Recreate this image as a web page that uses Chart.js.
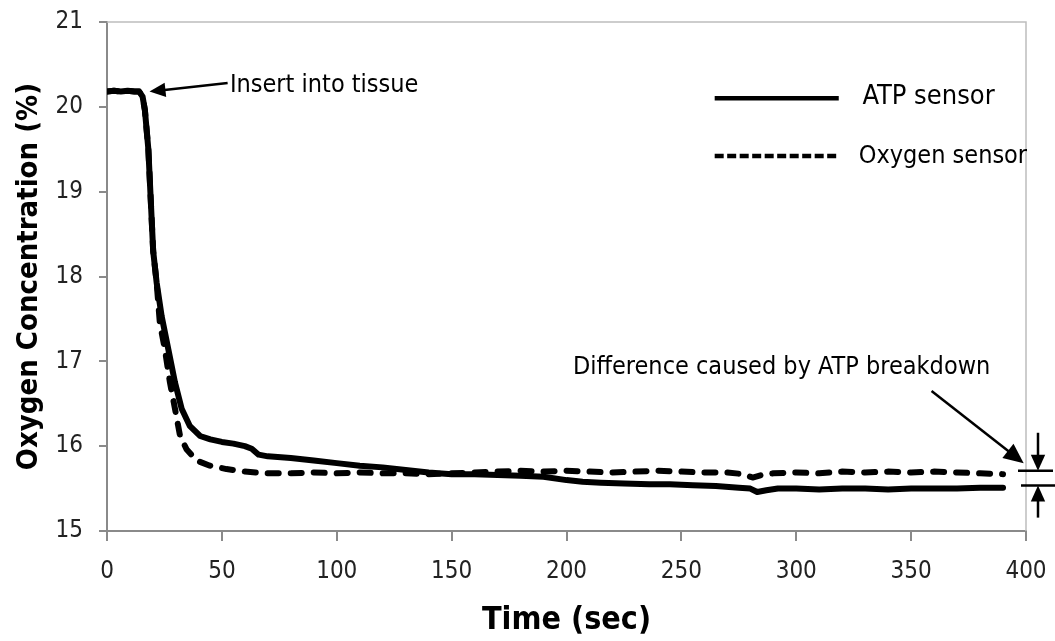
<!DOCTYPE html>
<html>
<head>
<meta charset="utf-8">
<script src="https://cdn.jsdelivr.net/npm/chart.js@4.4.1/dist/chart.umd.min.js"></script>
<style>
  html, body { margin: 0; padding: 0; background: #ffffff; }
  #wrap { width: 1055px; height: 641px; position: relative; }
</style>
</head>
<body>
<div id="wrap"><canvas id="chart"></canvas></div>
<script>
// ---- data ----
const atpTime = [0,3,6,9,12,14,15.5,16.5,18,19.4,20.1,21.6,23.8,26.7,29.6,32.5,36,40.5,45,50,55,60,63,66,70,80,90,100,110,120,130,140,150,160,170,180,190,200,207,215,225,236,245,255,265,275,280,283,287,292,300,310,320,330,340,350,360,370,380,390];
const atpValue = [20.18,20.19,20.18,20.19,20.18,20.18,20.12,19.96,19.5,18.7,18.3,17.93,17.53,17.14,16.75,16.44,16.24,16.12,16.08,16.05,16.03,16.0,15.97,15.9,15.88,15.86,15.83,15.8,15.77,15.75,15.72,15.69,15.67,15.67,15.66,15.65,15.64,15.6,15.58,15.57,15.56,15.55,15.55,15.54,15.53,15.51,15.5,15.46,15.48,15.5,15.5,15.49,15.5,15.5,15.49,15.5,15.5,15.5,15.51,15.51];

const oxyTime = [0,3,6,9,12,14,15.5,16.5,18,19.4,20.1,21.6,23,25.2,27.4,29.6,31.8,34.7,39,44.8,52,60,70,80,90,100,110,120,130,140,150,160,170,180,190,200,210,220,230,240,250,260,270,277,281,285,290,300,310,320,330,340,350,360,370,380,390];
const oxyValue = [20.18,20.19,20.18,20.19,20.18,20.18,20.12,19.96,19.5,18.7,18.3,17.93,17.45,17.14,16.75,16.44,16.12,15.96,15.83,15.77,15.73,15.7,15.68,15.68,15.69,15.68,15.69,15.68,15.68,15.67,15.68,15.69,15.7,15.71,15.7,15.71,15.7,15.69,15.7,15.71,15.7,15.69,15.69,15.67,15.63,15.66,15.68,15.69,15.68,15.7,15.69,15.7,15.69,15.7,15.69,15.68,15.67];

const seriesNames = ['ATP sensor', 'Oxygen sensor'];
const xTitle = 'Time (sec)';
const yTitle = 'Oxygen Concentration (%)';
const insertLabel = 'Insert into tissue';
const diffLabel = 'Difference caused by ATP breakdown';

const FONT = '"DejaVu Sans Condensed", "Liberation Sans Narrow", sans-serif';

function pts(xs, ys) { return xs.map((x, i) => ({ x: x, y: ys[i] })); }

function arrow(ctx, x1, y1, x2, y2, head, lw) {
  const a = Math.atan2(y2 - y1, x2 - x1);
  ctx.save();
  ctx.strokeStyle = '#000'; ctx.fillStyle = '#000'; ctx.lineWidth = lw;
  ctx.beginPath();
  ctx.moveTo(x1, y1);
  ctx.lineTo(x2 - Math.cos(a) * head * 0.8, y2 - Math.sin(a) * head * 0.8);
  ctx.stroke();
  ctx.beginPath();
  ctx.moveTo(x2, y2);
  ctx.lineTo(x2 - head * Math.cos(a) + head * 0.45 * Math.sin(a), y2 - head * Math.sin(a) - head * 0.45 * Math.cos(a));
  ctx.lineTo(x2 - head * Math.cos(a) - head * 0.45 * Math.sin(a), y2 - head * Math.sin(a) + head * 0.45 * Math.cos(a));
  ctx.closePath();
  ctx.fill();
  ctx.restore();
}

const framePlugin = {
  id: 'frame',
  beforeDatasetsDraw(chart) {
    const { ctx, chartArea: a } = chart;
    ctx.save();
    ctx.strokeStyle = '#bdbdbd';
    ctx.lineWidth = 1.5;
    ctx.beginPath();
    ctx.moveTo(a.left, a.top);
    ctx.lineTo(a.right, a.top);
    ctx.lineTo(a.right, a.bottom);
    ctx.stroke();
    ctx.restore();
  }
};

const annotPlugin = {
  id: 'annot',
  afterDraw(chart) {
    const { ctx, chartArea: a } = chart;
    const xs = chart.scales.x, ys = chart.scales.y;
    const X = v => xs.getPixelForValue(v), Y = v => ys.getPixelForValue(v);
    ctx.save();
    ctx.fillStyle = '#000';
    ctx.textBaseline = 'alphabetic';
    ctx.textAlign = 'left';
    ctx.font = '25px ' + FONT;
    // Insert into tissue
    ctx.fillText(insertLabel, X(53.5), Y(20.0) - 15);
    arrow(ctx, X(52.5), Y(20.28), X(18.5), Y(20.18), 16, 2.5);
    // Difference caused by ATP breakdown
    ctx.font = '25px ' + FONT;
    ctx.fillText(diffLabel, X(202.8), Y(16.88) + 2);
    arrow(ctx, X(358.9), Y(16.65), X(399), Y(15.8), 20, 2.5);
    // bracket marks
    const yTop = Y(15.71), yBot = Y(15.535);
    ctx.strokeStyle = '#000';
    ctx.lineWidth = 2.5;
    ctx.beginPath();
    ctx.moveTo(a.right - 8, yTop); ctx.lineTo(a.right + 27, yTop);
    ctx.moveTo(a.right - 5, yBot); ctx.lineTo(a.right + 29, yBot);
    ctx.stroke();
    arrow(ctx, a.right + 12, yTop - 38, a.right + 12, yTop, 16, 2.5);
    arrow(ctx, a.right + 12, yBot + 32, a.right + 12, yBot, 16, 2.5);
    // legend
    const ds = chart.data.datasets;
    [0, 1].forEach(i => {
      const ly = i === 0 ? Y(20.1) : Y(19.42);
      ctx.save();
      ctx.strokeStyle = ds[i].borderColor;
      ctx.lineWidth = 4.5;
      ctx.setLineDash(i === 0 ? [] : [9, 3.5]);
      ctx.beginPath();
      ctx.moveTo(X(264.5), ly); ctx.lineTo(X(318.5), ly);
      ctx.stroke();
      ctx.restore();
      ctx.font = (i === 0 ? '27px ' : '25px ') + FONT;
      ctx.fillText(ds[i].label, i === 0 ? X(328.8) : X(327.2), ly + (i === 0 ? 6 : 7));
    });
    ctx.restore();
  }
};

new Chart(document.getElementById('chart'), {
  type: 'line',
  data: {
    datasets: [
      {
        label: seriesNames[0],
        data: pts(atpTime, atpValue),
        borderColor: '#000000',
        borderWidth: 6,
        pointRadius: 0,
        tension: 0,
        borderCapStyle: 'round',
        borderJoinStyle: 'round'
      },
      {
        label: seriesNames[1],
        data: pts(oxyTime, oxyValue),
        borderColor: '#000000',
        borderWidth: 6,
        borderDash: [11, 12],
        borderCapStyle: 'round',
        borderJoinStyle: 'round',
        pointRadius: 0,
        tension: 0
      }
    ]
  },
  options: {
    responsive: true,
    maintainAspectRatio: false,
    animation: false,
    layout: { padding: { top: 22, right: 29, left: 0, bottom: 0 } },
    plugins: { legend: { display: false }, tooltip: { enabled: false } },
    scales: {
      x: {
        type: 'linear',
        min: 0, max: 400,
        afterFit(s) { s.height = 110; s.paddingLeft = 0; s.paddingRight = 0; s.paddingTop = 0; s.paddingBottom = 0; },
        ticks: { stepSize: 50, color: '#222', padding: 16, font: { family: FONT, size: 24 }, maxRotation: 0 },
        grid: { drawOnChartArea: false, drawTicks: true, tickLength: 10, color: '#8a8a8a', lineWidth: 2 },
        border: { display: true, color: '#8a8a8a', width: 2 },
        title: { display: true, text: xTitle, color: '#000', padding: { top: 0, bottom: 1 }, font: { family: FONT, size: 32, weight: 'bold' } }
      },
      y: {
        type: 'linear',
        min: 15, max: 21,
        afterFit(s) { s.width = 107; s.paddingLeft = 0; s.paddingRight = 0; s.paddingTop = 0; s.paddingBottom = 0; },
        ticks: { stepSize: 1, color: '#222', padding: 16, font: { family: FONT, size: 24 } },
        grid: { drawOnChartArea: false, drawTicks: true, tickLength: 8, color: '#8a8a8a', lineWidth: 2 },
        border: { display: true, color: '#8a8a8a', width: 2 },
        title: { display: true, text: yTitle, color: '#000', padding: { top: 12, bottom: 0 }, font: { family: FONT, size: 29, weight: 'bold' } }
      }
    }
  },
  plugins: [framePlugin, annotPlugin]
});
</script>
</body>
</html>
